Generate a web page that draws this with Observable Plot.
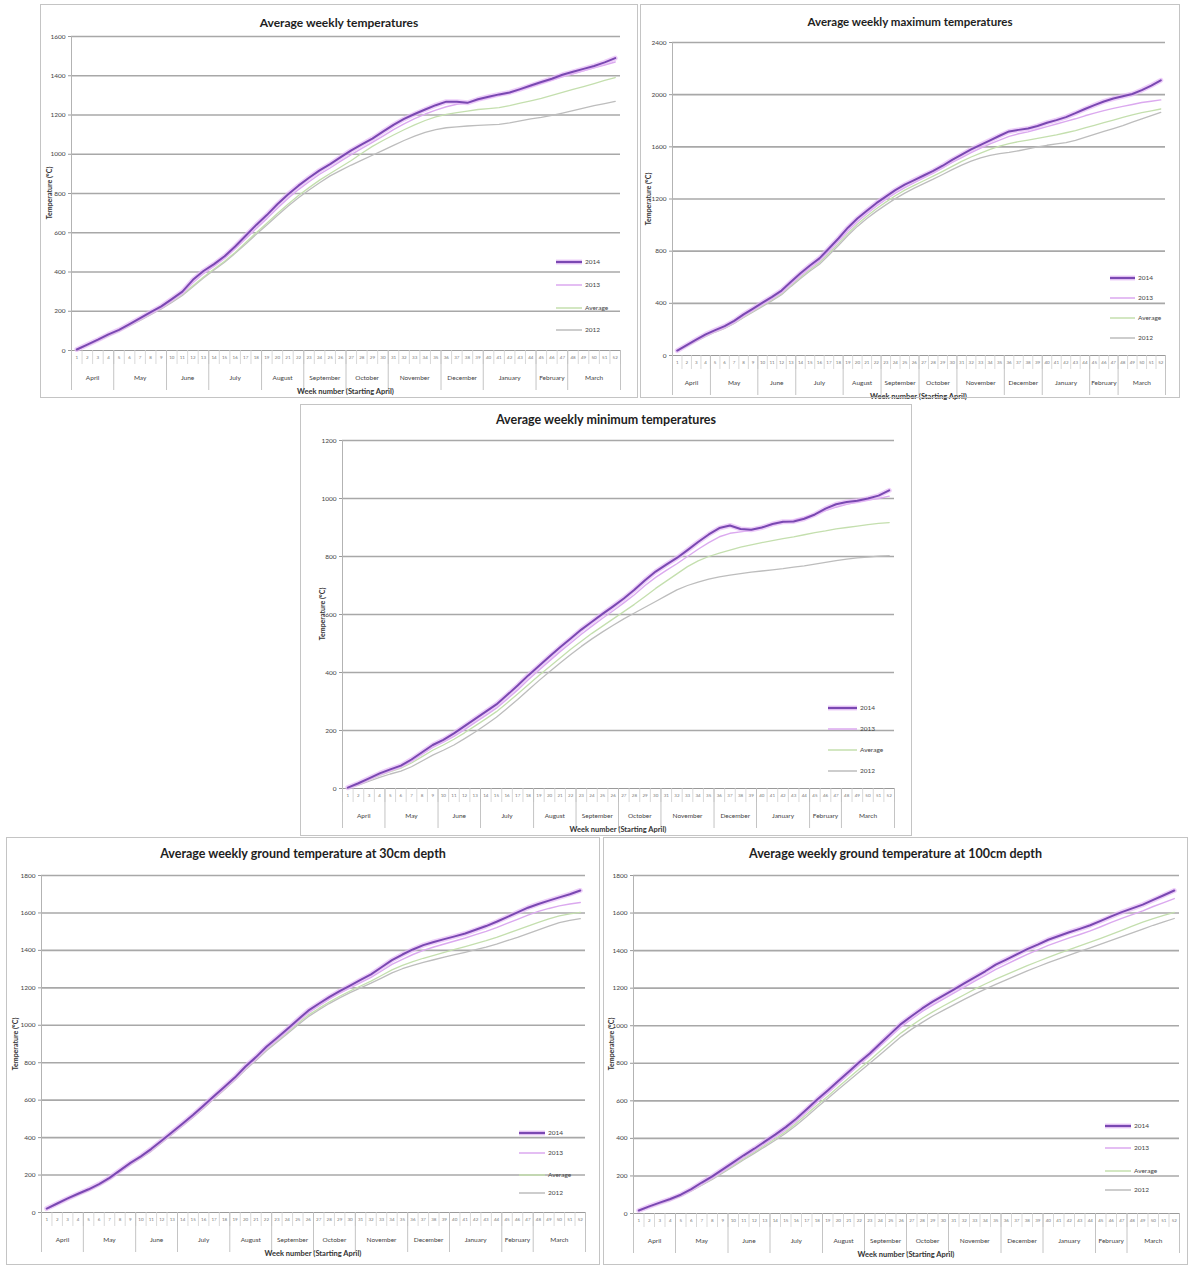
<!DOCTYPE html>
<html>
<head>
<meta charset="utf-8">
<script src="https://cdn.jsdelivr.net/npm/d3@7"></script>
<script src="https://cdn.jsdelivr.net/npm/@observablehq/plot@0.6"></script>
<style>
  body { margin: 0; background: #fff; font-family: Lato, "Open Sans", sans-serif; }
  #page { position: relative; width: 1188px; height: 1267px; overflow: hidden; background: #fff; }
  .panel { position: absolute; }
  .panel svg { position: absolute; left: 0; top: 0; }
  .frame { position: absolute; left: 0; top: 0; right: 0; bottom: 0; border: 1px solid #c4c4c4; pointer-events: none; }
  .title { position: absolute; left: 0; right: 0; text-align: center; font-weight: 700; color: #1e1e1e; white-space: nowrap; }
  .ytitle { position: absolute; font-weight: 700; font-size: 7px; color: #333; white-space: nowrap;
            transform: translate(-50%, -50%) rotate(-90deg); }
  .xtitle { position: absolute; font-weight: 700; font-size: 7.5px; color: #333; white-space: nowrap; transform: translateX(-50%); }
  .lg { position: absolute; font-size: 6.5px; color: #444; white-space: nowrap; }
  .lg svg { position: absolute; left: 0; top: 0; }
  .lg span { position: absolute; top: -4px; }
</style>
</head>
<body>
<div id="page"></div>
<script>
// Week categories and month groups of the season (starting April)
const weeks = [1,2,3,4,5,6,7,8,9,10,11,12,13,14,15,16,17,18,19,20,21,22,23,24,25,26,
               27,28,29,30,31,32,33,34,35,36,37,38,39,40,41,42,43,44,45,46,47,48,49,50,51,52];
const monthNames = ["April","May","June","July","August","September","October","November","December","January","February","March"];
const monthFirstWeek = [1,5,10,14,19,23,27,31,36,40,45,48];
const seriesNames = ["2014","2013","Average","2012"];

// Y axis tick labels per chart
const avgTicks = [0,200,400,600,800,1000,1200,1400,1600];
const maxTicks = [0,400,800,1200,1600,2000,2400];
const minTicks = [0,200,400,600,800,1000,1200];
const groundTicks = [0,200,400,600,800,1000,1200,1400,1600,1800];

// Average weekly temperatures (cumulative, °C)
const avgA = [5,30,55,82,105,135,165,195,225,262,300,360,405,440,480,530,585,640,690,745,795,840,880,918,950,985,1020,1050,1080,1115,1150,1180,1205,1228,1250,1268,1268,1262,1280,1293,1305,1315,1332,1350,1368,1385,1405,1420,1435,1450,1468,1490];
const avgB = [5,28,52,78,102,130,160,190,220,255,292,345,392,430,470,518,570,622,672,725,775,820,860,898,930,965,998,1030,1060,1092,1125,1155,1182,1205,1225,1242,1255,1262,1275,1288,1300,1312,1328,1345,1362,1378,1395,1410,1425,1440,1455,1470];
const avgC = [4,27,50,75,100,128,157,187,217,250,285,330,375,415,455,500,550,600,648,698,745,790,830,868,902,935,968,1005,1040,1070,1098,1125,1150,1172,1190,1203,1212,1220,1228,1233,1238,1248,1260,1272,1285,1300,1315,1330,1345,1360,1376,1391];
const avgD = [4,26,50,74,98,125,153,182,212,245,280,325,370,410,450,495,543,592,640,688,735,778,818,855,890,918,945,970,995,1020,1045,1070,1092,1112,1125,1135,1140,1144,1147,1150,1152,1160,1170,1180,1188,1198,1210,1222,1235,1248,1258,1269];

// Average weekly maximum temperatures
const maxA = [38,80,122,162,195,225,265,315,360,405,450,498,565,630,690,745,820,897,980,1050,1110,1168,1218,1268,1310,1345,1380,1415,1455,1500,1540,1580,1615,1650,1685,1718,1730,1740,1760,1785,1805,1828,1858,1890,1920,1948,1970,1988,2005,2035,2070,2110];
const maxB = [36,76,116,155,188,218,256,304,348,392,436,483,548,612,672,726,800,875,955,1025,1088,1145,1196,1245,1288,1325,1362,1398,1438,1480,1518,1555,1590,1622,1652,1680,1700,1715,1735,1755,1775,1795,1815,1838,1858,1878,1895,1910,1925,1940,1950,1960];
const maxC = [35,74,113,150,183,212,250,296,340,384,428,474,538,600,658,712,784,858,936,1006,1068,1125,1176,1225,1268,1305,1340,1375,1412,1450,1488,1522,1552,1580,1605,1625,1640,1652,1665,1678,1692,1708,1725,1745,1765,1785,1805,1825,1845,1862,1876,1890];
const maxD = [34,72,110,147,180,208,246,291,334,377,420,466,530,591,648,700,770,843,920,990,1050,1105,1155,1203,1245,1283,1318,1352,1388,1425,1460,1490,1515,1535,1548,1558,1570,1585,1600,1612,1622,1632,1650,1672,1695,1718,1740,1762,1790,1815,1840,1864];

// Average weekly minimum temperatures
const minA = [3,18,35,52,66,79,100,125,150,168,190,215,240,265,290,322,355,390,422,455,487,517,548,575,602,628,655,685,718,748,772,795,822,850,876,898,907,895,892,900,912,920,921,930,945,965,980,988,992,1000,1010,1028];
const minB = [3,16,32,48,62,75,94,118,142,160,180,203,228,252,277,308,340,375,408,440,472,502,532,560,587,613,640,668,700,728,752,775,800,825,848,868,880,885,890,900,910,918,925,935,945,958,970,980,988,995,1000,1008];
const minC = [2,15,30,45,58,70,88,110,132,150,170,192,216,240,265,295,326,358,390,420,450,480,508,535,560,585,610,635,662,690,715,740,765,785,800,812,822,832,840,848,855,862,868,875,882,888,895,900,905,910,914,917];
const minD = [2,12,25,38,50,60,75,95,115,132,150,172,195,220,246,276,307,340,372,403,433,462,490,516,540,563,585,605,625,645,665,685,700,712,722,730,736,741,746,750,754,758,763,768,774,780,786,791,795,798,801,803];

// Average weekly ground temperature at 30cm depth
const g30A = [21,48,75,100,124,152,185,225,265,300,340,385,430,475,522,572,622,672,722,780,830,885,932,980,1030,1078,1115,1150,1182,1212,1242,1272,1310,1348,1378,1405,1428,1445,1460,1475,1490,1510,1530,1553,1578,1603,1628,1648,1666,1683,1700,1720];
const g30B = [20,46,72,97,120,148,180,220,260,295,335,380,425,470,516,565,615,665,715,772,822,876,922,970,1020,1066,1104,1140,1172,1200,1228,1256,1290,1325,1352,1378,1400,1418,1434,1450,1466,1484,1502,1522,1544,1566,1588,1608,1624,1638,1648,1656];
const g30C = [20,46,72,96,119,147,179,219,258,293,332,377,422,467,513,562,612,662,712,768,818,870,916,962,1010,1054,1090,1124,1155,1183,1210,1236,1266,1296,1320,1340,1358,1374,1390,1405,1420,1436,1452,1470,1490,1510,1530,1550,1568,1584,1595,1603];
const g30D = [19,45,70,94,117,145,177,216,255,290,328,373,418,463,509,557,607,657,707,762,812,864,910,955,1002,1046,1082,1116,1146,1174,1200,1225,1252,1280,1302,1320,1336,1350,1364,1377,1390,1404,1418,1434,1452,1470,1490,1510,1530,1548,1560,1570];

// Average weekly ground temperature at 100cm depth
const g100A = [16,38,58,77,100,130,165,198,235,272,310,345,383,420,460,505,555,607,655,705,755,805,852,905,958,1010,1052,1092,1128,1160,1192,1225,1258,1290,1325,1352,1380,1408,1432,1458,1478,1498,1516,1535,1558,1582,1605,1625,1645,1670,1695,1720];
const g100B = [15,36,55,74,96,125,158,190,226,262,300,334,372,408,447,492,542,594,642,692,742,792,840,892,944,995,1036,1076,1110,1142,1173,1205,1237,1268,1300,1327,1354,1380,1404,1428,1448,1468,1486,1505,1527,1550,1572,1592,1612,1635,1656,1677];
const g100C = [15,35,54,72,94,122,154,186,220,255,292,326,362,398,436,480,528,578,625,674,722,770,816,865,914,962,1002,1040,1074,1105,1135,1165,1195,1222,1248,1272,1296,1320,1342,1364,1385,1405,1425,1445,1465,1486,1508,1530,1552,1570,1588,1603];
const g100D = [14,34,52,70,92,120,151,182,216,250,286,320,355,390,427,470,517,566,612,660,707,754,800,847,895,942,982,1018,1052,1082,1111,1140,1168,1195,1220,1244,1268,1292,1314,1336,1356,1376,1396,1415,1435,1455,1475,1495,1515,1535,1553,1571];

// Line styles: highlighted year first, then the comparison series
const lineColors = ["#7a48b2", "#dba9ef", "#c4dfae", "#bdbdbd"];
const glowColor = "#e6b9f6";

const monthEdges = monthFirstWeek.map(w => w - 0.5).concat([52.5]);
const monthMid = monthNames.map((m, i) => (monthEdges[i] + monthEdges[i + 1]) / 2);
const weekEdges = weeks.map(w => w - 0.5).concat([52.5]);

function drawPanel(cfg) {
  const page = document.getElementById("page");
  const box = document.createElement("div");
  box.className = "panel";
  Object.assign(box.style, {left: cfg.left + "px", top: cfg.top + "px", width: cfg.width + "px", height: cfg.height + "px"});
  page.appendChild(box);

  const yMax = cfg.ticks[cfg.ticks.length - 1];
  const plotW = cfg.width - cfg.mL - cfg.mR;
  const plotH = cfg.height - cfg.mT - cfg.mB;
  const pxPerUnit = plotH / yMax;
  const pxPerWeek = plotW / 52;
  const down = px => -px / pxPerUnit;

  const rows = cfg.series.flatMap((vals, si) =>
    vals.map((v, i) => ({week: weeks[i], value: v, name: seriesNames[si]})));
  const bySeries = name => rows.filter(r => r.name === name);

  const marks = [
    // horizontal gridlines
    Plot.ruleY(cfg.ticks.slice(1), {y: d => d, x1: 0.5, x2: 52.5, stroke: "#a8a8a8", strokeWidth: 1.6}),
    // value axis: line, ticks, labels
    Plot.ruleX([0.5], {y1: 0, y2: yMax, stroke: "#b3b3b3"}),
    Plot.ruleY(cfg.ticks, {y: d => d, x1: 0.5, x2: 0.5 - 3 / pxPerWeek, stroke: "#999"}),
    Plot.text(cfg.ticks, {x: 0.5, y: d => d, text: d => String(d), textAnchor: "end", dx: -6, fontSize: 6.5, fill: "#444"}),
    // category axis: week row and month row
    Plot.ruleY([0], {x1: 0.5, x2: 52.5, stroke: "#9a9a9a", strokeWidth: 1.2}),
    Plot.ruleX(weekEdges, {x: d => d, y1: 0, y2: down(14), stroke: "#cfcfcf", strokeWidth: 0.8}),
    Plot.ruleX(monthEdges, {x: d => d, y1: 0, y2: down(40), stroke: "#bdbdbd", strokeWidth: 0.9}),
    Plot.text(weeks, {x: d => d, y: 0, dy: 7.5, text: d => String(d), fontSize: 4.5, fill: "#777"}),
    Plot.text(monthNames, {x: (d, i) => monthMid[i], y: 0, dy: 27, text: d => d, fontSize: 6.5, fill: "#444"}),
    // series lines, comparison years under the highlighted one
    Plot.line(bySeries(seriesNames[3]), {x: "week", y: "value", stroke: lineColors[3], strokeWidth: 1.3}),
    Plot.line(bySeries(seriesNames[2]), {x: "week", y: "value", stroke: lineColors[2], strokeWidth: 1.3}),
    Plot.line(bySeries(seriesNames[1]), {x: "week", y: "value", stroke: lineColors[1], strokeWidth: 1.4}),
    Plot.line(bySeries(seriesNames[0]), {x: "week", y: "value", stroke: glowColor, strokeWidth: 5, strokeOpacity: 0.7}),
    Plot.line(bySeries(seriesNames[0]), {x: "week", y: "value", stroke: lineColors[0], strokeWidth: 2})
  ];

  const svg = Plot.plot({
    width: cfg.width,
    height: cfg.height,
    marginLeft: cfg.mL, marginRight: cfg.mR, marginTop: cfg.mT, marginBottom: cfg.mB,
    x: {domain: [0.5, 52.5], axis: null},
    y: {domain: [0, yMax], axis: null},
    style: {background: "transparent", overflow: "visible", fontFamily: "Lato, 'Open Sans', sans-serif"},
    marks
  });
  box.appendChild(svg);

  const title = document.createElement("div");
  title.className = "title";
  title.textContent = cfg.title;
  Object.assign(title.style, {top: cfg.titleTop + "px", fontSize: cfg.titleSize + "px"});
  box.appendChild(title);

  const yt = document.createElement("div");
  yt.className = "ytitle";
  yt.textContent = "Temperature (°C)";
  Object.assign(yt.style, {left: cfg.yTitleX + "px", top: (cfg.mT + plotH / 2) + "px"});
  box.appendChild(yt);

  const xt = document.createElement("div");
  xt.className = "xtitle";
  xt.textContent = "Week number (Starting April)";
  Object.assign(xt.style, {left: (cfg.mL + plotW / 2) + "px", top: (cfg.mT + plotH + 37) + "px"});
  box.appendChild(xt);

  // legend
  seriesNames.forEach((name, i) => {
    const item = document.createElement("div");
    item.className = "lg";
    Object.assign(item.style, {left: cfg.legendX + "px", top: cfg.legendY[i] + "px"});
    const sw = cfg.swatch;
    const ns = "http://www.w3.org/2000/svg";
    const s = document.createElementNS(ns, "svg");
    s.setAttribute("width", sw); s.setAttribute("height", 6);
    s.style.top = "-3px";
    if (i === 0) {
      const g = document.createElementNS(ns, "line");
      Object.entries({x1: 0, x2: sw, y1: 3, y2: 3, stroke: glowColor, "stroke-width": 5, "stroke-opacity": 0.7})
        .forEach(([k, v]) => g.setAttribute(k, v));
      s.appendChild(g);
    }
    const l = document.createElementNS(ns, "line");
    Object.entries({x1: 0, x2: sw, y1: 3, y2: 3, stroke: lineColors[i], "stroke-width": i === 0 ? 2.2 : 1.5})
      .forEach(([k, v]) => l.setAttribute(k, v));
    s.appendChild(l);
    item.appendChild(s);
    const t = document.createElement("span");
    t.textContent = name;
    t.style.left = (sw + 3) + "px";
    item.appendChild(t);
    box.appendChild(item);
  });

  const frame = document.createElement("div");
  frame.className = "frame";
  box.appendChild(frame);
}

drawPanel({
  title: "Average weekly temperatures", titleSize: 12, titleTop: 11,
  left: 40, top: 4, width: 598, height: 394, mL: 31, mR: 18, mT: 32, mB: 48,
  ticks: avgTicks, series: [avgA, avgB, avgC, avgD],
  yTitleX: 9, legendX: 516, legendY: [258, 281, 304, 326], swatch: 26
});
drawPanel({
  title: "Average weekly maximum temperatures", titleSize: 11.5, titleTop: 11,
  left: 640, top: 4, width: 540, height: 394, mL: 32, mR: 15, mT: 38, mB: 43,
  ticks: maxTicks, series: [maxA, maxB, maxC, maxD],
  yTitleX: 8, legendX: 470, legendY: [274, 294, 314, 334], swatch: 25
});
drawPanel({
  title: "Average weekly minimum temperatures", titleSize: 12.5, titleTop: 8,
  left: 300, top: 404, width: 612, height: 432, mL: 42, mR: 18, mT: 36, mB: 48,
  ticks: minTicks, series: [minA, minB, minC, minD],
  yTitleX: 22, legendX: 528, legendY: [304, 325, 346, 367], swatch: 29
});
drawPanel({
  title: "Average weekly ground temperature at 30cm depth", titleSize: 12.5, titleTop: 9,
  left: 6, top: 837, width: 594, height: 428, mL: 35, mR: 15, mT: 38, mB: 53,
  ticks: groundTicks, series: [g30A, g30B, g30C, g30D],
  yTitleX: 9, legendX: 513, legendY: [296, 316, 338, 356], swatch: 26
});
drawPanel({
  title: "Average weekly ground temperature at 100cm depth", titleSize: 12.5, titleTop: 9,
  left: 603, top: 837, width: 585, height: 428, mL: 30, mR: 9, mT: 38, mB: 52,
  ticks: groundTicks, series: [g100A, g100B, g100C, g100D],
  yTitleX: 8, legendX: 502, legendY: [289, 311, 334, 353], swatch: 26
});
</script>
</body>
</html>
